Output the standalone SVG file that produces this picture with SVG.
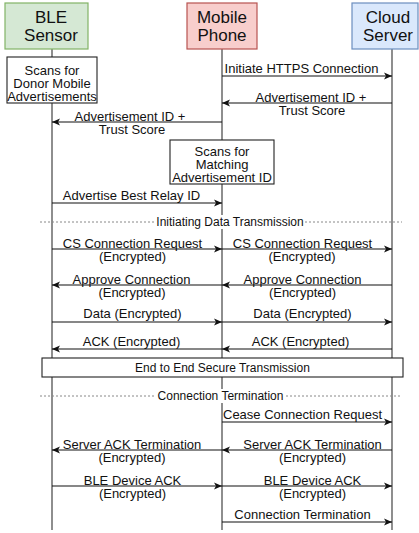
<svg xmlns="http://www.w3.org/2000/svg" width="419" height="533" viewBox="0 0 419 533">
<style>
text{font-family:"Liberation Sans",Arial,sans-serif;fill:#111;text-anchor:middle}
.h{font-size:17px}
.m{font-size:13px}
.s{font-size:12px}
.life{stroke:#444;stroke-width:1.2;fill:none}
.msg{stroke:#111;stroke-width:1.1;fill:none;marker-end:url(#arr)}
.dash{stroke:#888;stroke-width:1;stroke-dasharray:2 2;fill:none}
.box{fill:#fff;stroke:#222;stroke-width:1.1}
.bg{fill:#fff}
</style>
<defs>
<marker id="arr" markerUnits="userSpaceOnUse" markerWidth="10" markerHeight="8" refX="8" refY="4" orient="auto">
<path d="M0,0.5 L8,4 L0,7.5 L2,4 z" fill="#111"/>
</marker>
</defs>
<rect width="419" height="533" fill="#fff"/>
<g id="lifelines">
<path class="life" d="M52,49 V57 M52,103 V530"/>
<path class="life" d="M222,49 V140 M222,184 V530"/>
<path class="life" d="M392,49 V530"/>
</g>
<g id="ble">
<rect x="5" y="3" width="83" height="46" fill="#d5e8d4" stroke="#82b366" stroke-width="1.2"/>
<text class="h" x="51" y="22.5">BLE</text>
<text class="h" x="51" y="40.5">Sensor</text>
</g>
<g id="mobile">
<rect x="187" y="3" width="70" height="46" fill="#f8cecc" stroke="#b85450" stroke-width="1.2"/>
<text class="h" x="222" y="22.5">Mobile</text>
<text class="h" x="222" y="40.5">Phone</text>
</g>
<g id="cloud">
<rect x="352" y="3" width="66" height="46" fill="#dae8fc" stroke="#6c8ebf" stroke-width="1.2"/>
<text class="h" x="388" y="22.5">Cloud</text>
<text class="h" x="388" y="40.5">Server</text>
</g>
<g id="scan-ble">
<rect class="box" x="7" y="57" width="90" height="46"/>
<text class="m" x="52" y="74.5">Scans for</text>
<text class="m" x="52" y="87.5">Donor Mobile</text>
<text class="m" x="52" y="100.5">Advertisements</text>
</g>
<g id="scan-mobile">
<rect class="box" x="170" y="140" width="104" height="44"/>
<text class="m" x="222" y="156">Scans for</text>
<text class="m" x="222" y="169">Matching</text>
<text class="m" x="222" y="182">Advertisement ID</text>
</g>
<g id="sec-init">
<rect class="bg" x="155" y="215" width="150" height="14"/>
<path class="dash" d="M40,222 H155 M305,222 H402"/>
<text class="s" x="230" y="226">Initiating Data Transmission</text>
</g>
<g id="e2e">
<rect class="box" x="42" y="358" width="361" height="19"/>
<text class="s" x="222.5" y="372">End to End Secure Transmission</text>
</g>
<g id="sec-term">
<rect class="bg" x="156" y="389" width="130" height="14"/>
<path class="dash" d="M40,396 H156 M286,396 H402"/>
<text class="s" x="220.5" y="400">Connection Termination</text>
</g>
<g id="connectors">
<path class="msg" d="M222,76 H392"/>
<path class="msg" d="M392,103 H222"/>
<path class="msg" d="M222,122 H52"/>
<path class="msg" d="M52,203 H222"/>
<path class="msg" d="M52,249 H222"/>
<path class="msg" d="M222,249 H392"/>
<path class="msg" d="M392,285 H222"/>
<path class="msg" d="M222,285 H52"/>
<path class="msg" d="M52,322 H222"/>
<path class="msg" d="M222,322 H392"/>
<path class="msg" d="M392,349 H222"/>
<path class="msg" d="M222,349 H52"/>
<path class="msg" d="M222,422 H392"/>
<path class="msg" d="M392,450 H222"/>
<path class="msg" d="M222,450 H52"/>
<path class="msg" d="M52,486 H222"/>
<path class="msg" d="M222,486 H392"/>
<path class="msg" d="M222,522 H392"/>
</g>
<g id="labels">
<text class="m" x="301.5" y="72.5">Initiate HTTPS Connection</text>
<text class="m" x="311" y="101.5">Advertisement ID +</text>
<text class="m" x="312" y="115">Trust Score</text>
<text class="m" x="130" y="121">Advertisement ID +</text>
<text class="m" x="132" y="134">Trust Score</text>
<text class="m" x="131.5" y="200">Advertise Best Relay ID</text>
<text class="m" x="132.5" y="248">CS Connection Request</text>
<text class="m" x="132.5" y="261">(Encrypted)</text>
<text class="m" x="302.5" y="248">CS Connection Request</text>
<text class="m" x="302" y="261">(Encrypted)</text>
<text class="m" x="131.5" y="284">Approve Connection</text>
<text class="m" x="132" y="297">(Encrypted)</text>
<text class="m" x="302.5" y="284">Approve Connection</text>
<text class="m" x="302.5" y="297">(Encrypted)</text>
<text class="m" x="132.5" y="318">Data (Encrypted)</text>
<text class="m" x="302.5" y="318">Data (Encrypted)</text>
<text class="m" x="131.5" y="346">ACK (Encrypted)</text>
<text class="m" x="300.5" y="346">ACK (Encrypted)</text>
<text class="m" x="302.5" y="419">Cease Connection Request</text>
<text class="m" x="132" y="449">Server ACK Termination</text>
<text class="m" x="132" y="462">(Encrypted)</text>
<text class="m" x="312.5" y="449">Server ACK Termination</text>
<text class="m" x="312.5" y="462">(Encrypted)</text>
<text class="m" x="132.5" y="485">BLE Device ACK</text>
<text class="m" x="132.5" y="498">(Encrypted)</text>
<text class="m" x="312.5" y="485">BLE Device ACK</text>
<text class="m" x="312.5" y="498">(Encrypted)</text>
<text class="m" x="302.5" y="519">Connection Termination</text>
</g>
</svg>
